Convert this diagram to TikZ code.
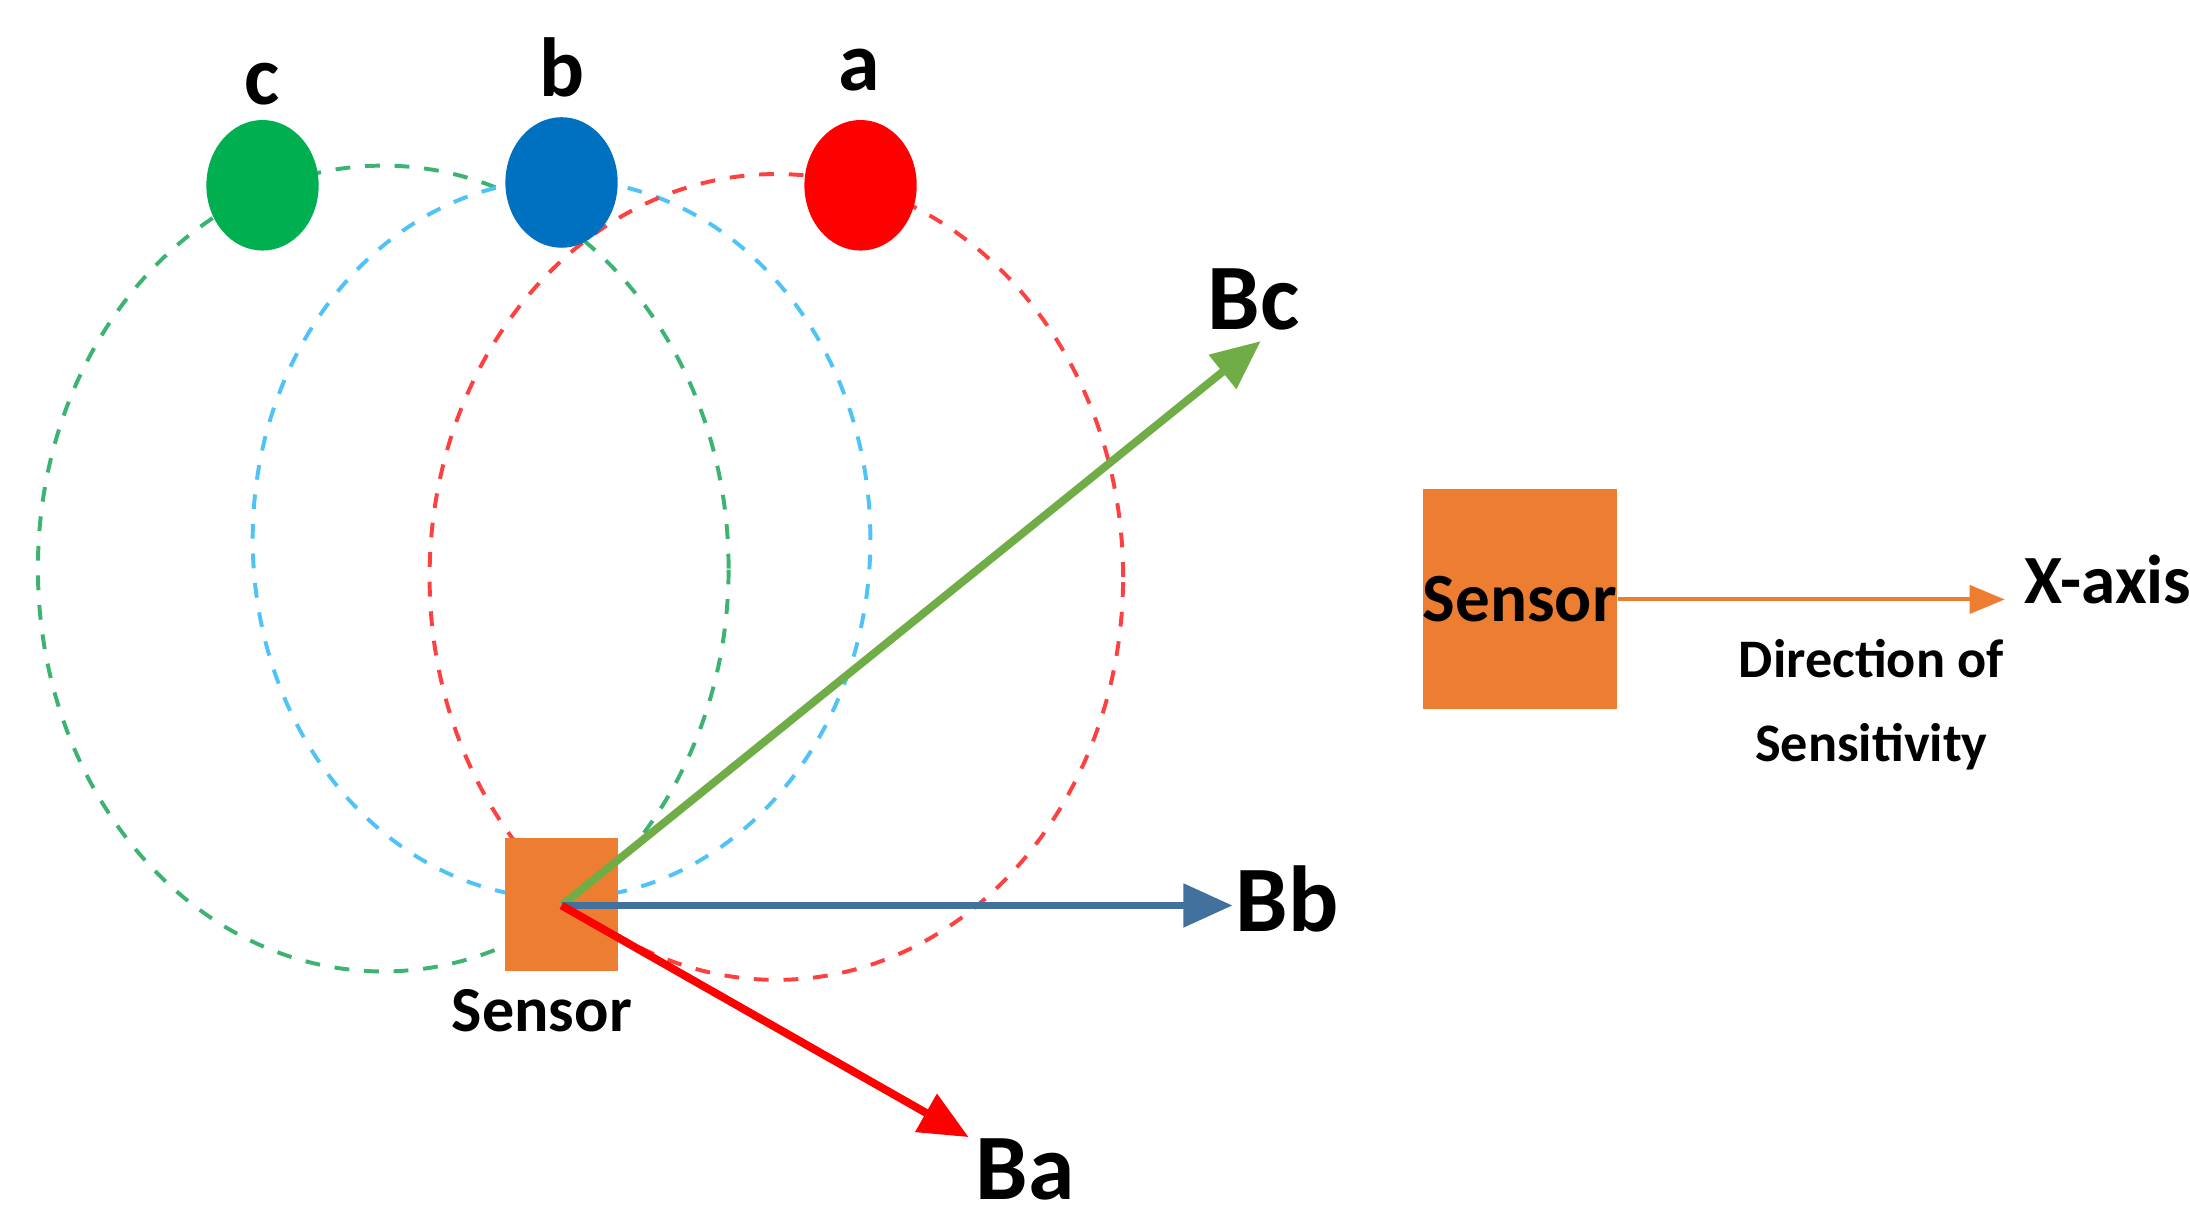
\documentclass[tikz,border=0pt]{standalone}
\usepackage{fontspec}
\setmainfont{Carlito}
\usetikzlibrary{shapes.geometric,arrows.meta,positioning}
\definecolor{sensorc}{HTML}{ED7D31}
\definecolor{dotg}{HTML}{00B050}
\definecolor{dotb}{HTML}{0070C0}
\definecolor{arrg}{HTML}{70AD47}
\definecolor{arrb}{HTML}{41719C}
\definecolor{ringg}{HTML}{3CB371}
\definecolor{ringb}{HTML}{4FC3F7}
\definecolor{ringr}{HTML}{FF4040}
\begin{document}
\begin{tikzpicture}[
  dot/.style={ellipse, minimum width=0.8cm, minimum height=0.93cm, inner sep=0pt},
  ring/.style={ellipse, draw, dashed, thick, inner sep=0pt},
  lbl/.style={font=\fontsize{17}{19}\selectfont\bfseries},
  big/.style={font=\fontsize{19}{21}\selectfont\bfseries},
  vec/.style={line width=1.6pt, -{Triangle[length=0.35cm,width=0.3cm]}},
  txt/.style={font=\fontsize{11}{13}\selectfont\bfseries}
]
  \useasboundingbox (0,0) rectangle (15.6,8.75);
  % field lines
  \node[ring, ringg, minimum width=4.92cm, minimum height=5.74cm] (rc) at (2.73,4.70) {};
  \node[ring, ringb, minimum width=4.40cm, minimum height=5.12cm] (rb) at (4.00,4.91) {};
  \node[ring, ringr, minimum width=4.94cm, minimum height=5.74cm] (ra) at (5.53,4.64) {};
  % magnets
  \node[dot, fill=dotg] (c) at (1.87,7.43) {};
  \node[dot, fill=dotb] (b) at (4.00,7.45) {};
  \node[dot, fill=red] (a) at (6.13,7.43) {};
  \node[lbl] at (1.87,8.15) {c};
  \node[lbl] at (4.00,8.27) {b};
  \node[lbl] at (6.12,8.25) {a};
  % sensor
  \node[fill=sensorc, minimum width=0.81cm, minimum height=0.95cm, inner sep=0pt] (s) at (4.00,2.305) {};
  \node[font=\fontsize{13}{15}\selectfont\bfseries] at (3.86,1.55) {Sensor};
  \coordinate (o) at (4.00,2.30);
  \coordinate (tc) at (8.98,6.32);
  \coordinate (tb) at (8.78,2.30);
  \coordinate (ta) at (6.90,0.65);
  \draw[vec, arrg] (o) -- (tc);
  \draw[vec, arrb] (o) -- (tb);
  \draw[vec, red] (o) -- (ta);
  \node[big] at (8.93,6.62) {Bc};
  \node[big] at (9.17,2.35) {Bb};
  \node[big] at (7.30,0.42) {Ba};
  % legend
  \node[fill=sensorc, minimum width=1.35cm, minimum height=1.57cm, inner sep=0pt,
        font=\fontsize{14}{16}\selectfont\bfseries] (s2) at (10.825,4.485) {Sensor};
  \node[font=\fontsize{14}{16}\selectfont\bfseries, anchor=west, inner sep=1pt] (x) at (14.38,4.62) {X-axis};
  \coordinate (xt) at (14.28,4.48);
  \draw[sensorc, line width=0.8pt, -{Triangle[length=0.25cm,width=0.2cm]}] (s2.east |- xt) -- (xt);
  \node[txt, align=center] at (13.33,3.73) {Direction of\\[4pt]Sensitivity};
\end{tikzpicture}
\end{document}
